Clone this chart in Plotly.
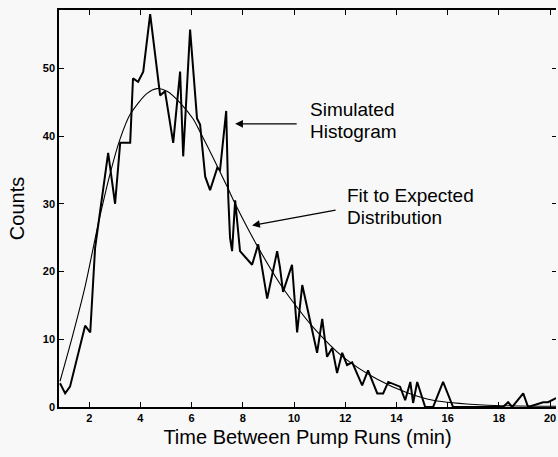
import plotly.graph_objects as go

# Simulated histogram (time in min, counts)
hist_x = [0.86, 1.06, 1.25, 1.84, 2.04, 2.23, 2.74, 3.01, 3.21, 3.60, 3.71, 3.91, 4.11,
          4.38, 4.77, 4.96, 5.28, 5.55, 5.67, 5.94, 6.21, 6.33, 6.53, 6.72, 7.00, 7.11,
          7.35, 7.43, 7.50, 7.58, 7.70, 7.89, 8.36, 8.60, 8.95, 9.34, 9.45, 9.57, 9.92,
          10.12, 10.32, 10.90, 11.10, 11.29, 11.49, 11.68, 11.88, 12.07, 12.27, 12.66,
          12.89, 13.25, 13.48, 13.68, 14.14, 14.34, 14.54, 14.65, 14.81, 15.12, 15.43,
          15.82, 16.21, 18.16, 18.36, 18.52, 18.95, 19.14, 19.73, 19.92, 20.23]
hist_y = [3.5, 2, 3, 12, 11, 23.5, 37.5, 30, 39, 39, 48.5, 48, 49.5,
          58, 46, 46.6, 39, 49.5, 37, 55.7, 42.6, 41.7, 34, 32, 35.3, 35,
          43.7, 31, 25, 23, 30.5, 23, 21, 24, 16, 23, 20.6, 17, 21,
          11, 18, 8, 13, 7.4, 8.7, 5, 8, 6.2, 6.6, 3.2,
          5.4, 2, 2, 3.7, 3, 1, 3.7, 0.6, 3.7, 0, 0,
          3.7, 0, 0, 0.7, 0, 2, 0, 0.7, 0.7, 1.3]

# Fit to expected distribution
fit_x = [0.86, 1.35, 1.84, 2.35, 2.82, 3.20, 3.60, 4.26, 4.65, 5.04, 5.55, 6.06, 6.33, 6.84,
         7.39, 7.70, 8.56, 9.45, 9.96, 10.74, 11.91, 13.25, 14.42, 15.43, 17.38, 20.23]
fit_y = [3.8, 10.5, 17.8, 27.0, 34.5, 39.5, 43.2, 46.3, 47, 46.6, 44.9, 42.5, 40.6, 36.8,
         32.5, 30, 23.8, 18.2, 15.5, 11.8, 7.4, 4.1, 2.1, 1.0, 0.3, 0.1]

x_ticks = [2, 4, 6, 8, 10, 12, 14, 16, 18, 20]
y_ticks = [0, 10, 20, 30, 40, 50]

x_range = [0.82, 20.23]
y_range = [0, 58.6]

fig = go.Figure()
fig.add_trace(go.Scatter(x=fit_x, y=fit_y, mode="lines", line=dict(color="black", width=1.1, shape="spline", smoothing=0.8),
                         hoverinfo="skip", showlegend=False))
fig.add_trace(go.Scatter(x=hist_x, y=hist_y, mode="lines", line=dict(color="black", width=2),
                         showlegend=False))
fig.add_trace(go.Scatter(x=[None], y=[None], yaxis="y2", showlegend=False, hoverinfo="skip"))

font_txt = "Liberation Sans, Arial, Helvetica, sans-serif"
tickfont = dict(family=font_txt, size=11, color="black", weight="bold")

fig.update_layout(
    width=558, height=457,
    margin=dict(l=59, r=2, t=10, b=50),
    paper_bgcolor="#f8f8f8", plot_bgcolor="#f8f8f8",
    font=dict(family=font_txt, color="black"),
    xaxis=dict(range=x_range, tickvals=x_ticks, ticks="inside", ticklen=5, tickwidth=1,
               tickcolor="black", showline=True, linecolor="black", linewidth=1.5,
               mirror="ticks", showgrid=False, zeroline=False, tickfont=tickfont,
               title=dict(text="Time Between Pump Runs (min)", font=dict(size=20, family=font_txt), standoff=7)),
    yaxis=dict(range=y_range, tickvals=y_ticks, ticks="inside", ticklen=5, tickwidth=1,
               tickcolor="black", showline=True, linecolor="black", linewidth=1.5,
               mirror=False, showgrid=False, zeroline=False, tickfont=tickfont,
               title=dict(text="Counts", font=dict(size=20, family=font_txt), standoff=13)),
    yaxis2=dict(range=y_range, tickvals=y_ticks, overlaying="y", side="right", ticks="inside",
                ticklen=4, tickcolor="black", showline=False, showticklabels=False,
                showgrid=False, zeroline=False),
)

ann_font = dict(family=font_txt, size=19, color="black")
# text labels
fig.add_annotation(x=10.56, y=43.9, text="Simulated", showarrow=False, xanchor="left", yanchor="middle", font=ann_font)
fig.add_annotation(x=10.56, y=40.6, text="Histogram", showarrow=False, xanchor="left", yanchor="middle", font=ann_font)
fig.add_annotation(x=11.99, y=31.2, text="Fit to Expected", showarrow=False, xanchor="left", yanchor="middle", font=ann_font)
fig.add_annotation(x=11.99, y=27.9, text="Distribution", showarrow=False, xanchor="left", yanchor="middle", font=ann_font)
# arrows
fig.add_annotation(x=7.70, y=41.8, ax=10.16, ay=41.8, axref="x", ayref="y", xref="x", yref="y",
                   text="", showarrow=True, arrowhead=2, arrowsize=1.2, arrowwidth=1.3, arrowcolor="black")
fig.add_annotation(x=8.36, y=26.8, ax=11.68, ay=29.1, axref="x", ayref="y", xref="x", yref="y",
                   text="", showarrow=True, arrowhead=2, arrowsize=1.2, arrowwidth=1.3, arrowcolor="black")

fig.write_html("out.html")
